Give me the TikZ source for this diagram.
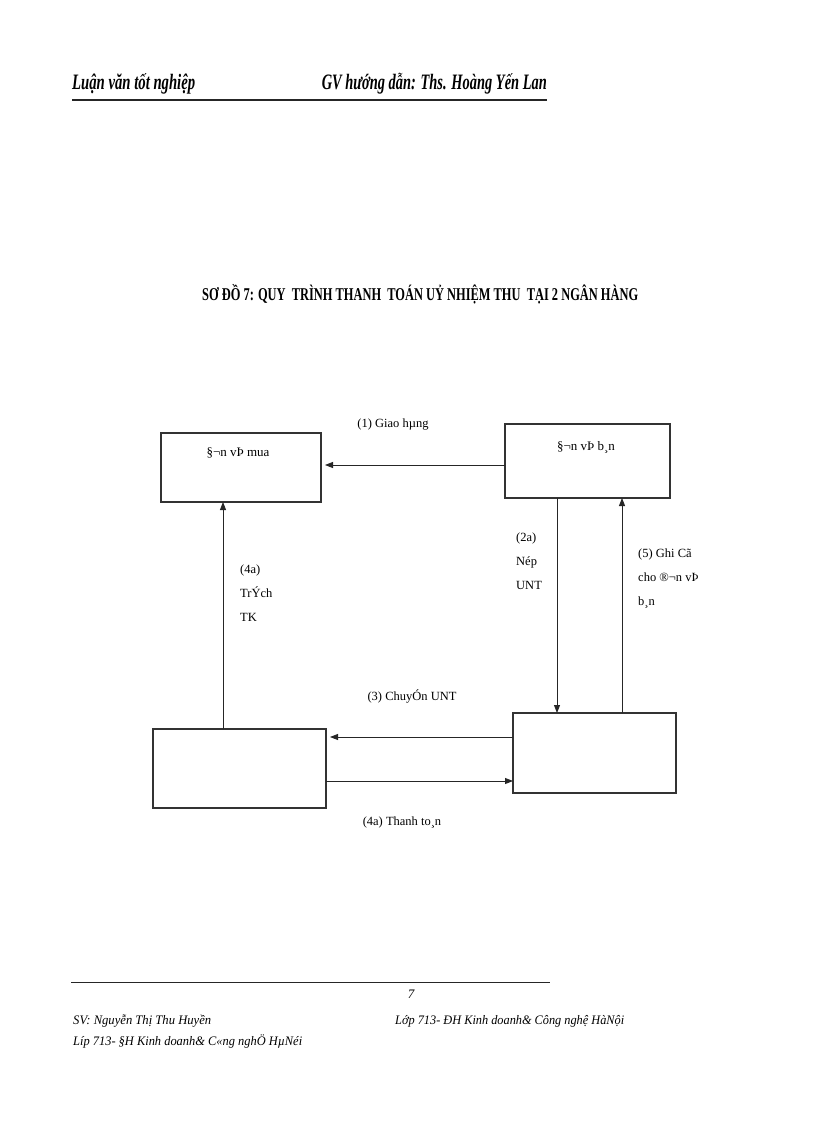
\documentclass[tikz,border=0pt]{standalone}
\usepackage{fontspec}
\setmainfont{Liberation Serif}
\usetikzlibrary{arrows.meta}
\begin{document}
\begin{tikzpicture}[x=1pt,y=-1pt,
  box/.style={draw=black!80,line width=1.1pt,inner sep=0pt,outer sep=0pt,anchor=north west},
  arr/.style={draw=black!85,line width=0.9pt,-{Triangle[length=8pt,width=6pt]}},
  txt/.style={inner sep=0pt,font=\fontsize{12.5}{24}\selectfont},
  btxt/.style={inner sep=0pt,font=\fontsize{13}{13}\selectfont},
  lbl/.style={txt,align=left,anchor=north west},
  rule/.style={draw=black!85}]
\fill[white] (0,0) rectangle (816,1123);
\useasboundingbox (0,0) rectangle (816,1123);

% header
\node[inner sep=0pt,anchor=base west] (hl) at (72,90)
  {\resizebox{123pt}{\height}{\fontsize{22}{22}\selectfont\bfseries\itshape Luận văn tốt nghiệp}};
\node[inner sep=0pt,anchor=base east] (hr) at (547,90)
  {\resizebox{225pt}{\height}{\fontsize{22}{22}\selectfont\bfseries\itshape GV hướng dẫn: Ths. Hoàng Yến Lan}};
\coordinate (h1) at (72,100);
\coordinate (h2) at (547,100);
\draw[rule,line width=1.5pt] (h1) -- (h2);

% title
\node[inner sep=0pt,anchor=base west] (title) at (202,300)
  {\resizebox{436pt}{\height}{\fontsize{18}{18}\selectfont\bfseries SƠ ĐỒ 7: QUY\ \ TRÌNH THANH\ \ TOÁN UỶ NHIỆM THU\ \ TẠI 2 NGÂN HÀNG}};

% boxes
\node[box,minimum width=160pt,minimum height=69pt] (b1) at (161,433) {};
\node[box,minimum width=165pt,minimum height=74pt] (b2) at (505,424) {};
\node[box,minimum width=173pt,minimum height=79pt] (b3) at (153,729) {};
\node[box,minimum width=163pt,minimum height=80pt] (b4) at (513,713) {};

\node[btxt] (t1) at (238,453) {§¬n vÞ mua};
\node[btxt] (t2) at (586,447) {§¬n vÞ b¸n};

% connectors
\draw[arr,shorten >=4pt] (b2.west |- 0,465) -- (b1.east |- 0,465);
\draw[arr] (b2.south -| 557,0) -- (b4.north -| 557,0);
\draw[arr] (b4.north -| 622,0) -- (b2.south -| 622,0);
\draw[arr] (b3.north -| 223,0) -- (b1.south -| 223,0);
\draw[arr,shorten >=4pt] (b4.west |- 0,737) -- (b3.east |- 0,737);
\draw[arr] (b3.east |- 0,781) -- (b4.west |- 0,781);

% labels
\node[txt] (l1) at (393,425) {(1) Giao hµng};
\node[lbl] (l2a) at (516,533) {(2a)\\Nép\\UNT};
\node[lbl] (l5) at (638,549) {(5) Ghi Cã\\cho ®¬n vÞ\\b¸n};
\node[lbl] (l4a) at (240,565) {(4a)\\TrÝch\\TK};
\node[txt] (l3) at (412,696) {(3) ChuyÓn UNT};
\node[txt] (l4b) at (402,822) {(4a) Thanh to¸n};

% footer
\coordinate (f1) at (71,982);
\coordinate (f2) at (550,982);
\draw[rule,line width=1pt] (f1) -- (f2);
\node[inner sep=0pt,font=\fontsize{13}{13}\selectfont\itshape] (pg) at (411,994) {7};
\node[inner sep=0pt,anchor=base west] (sv) at (73,1024)
  {\resizebox{138pt}{\height}{\fontsize{13}{13}\selectfont\itshape SV: Nguyễn Thị Thu Huyền}};
\node[inner sep=0pt,anchor=base west] (lop1) at (395,1024)
  {\resizebox{229pt}{\height}{\fontsize{13}{13}\selectfont\itshape Lớp 713- ĐH Kinh doanh\& Công nghệ HàNội}};
\node[inner sep=0pt,anchor=base west] (lop2) at (73,1045)
  {\resizebox{229pt}{\height}{\fontsize{13}{13}\selectfont\itshape Líp 713- §H Kinh doanh\& C«ng nghÖ HµNéi}};
\end{tikzpicture}
\end{document}
